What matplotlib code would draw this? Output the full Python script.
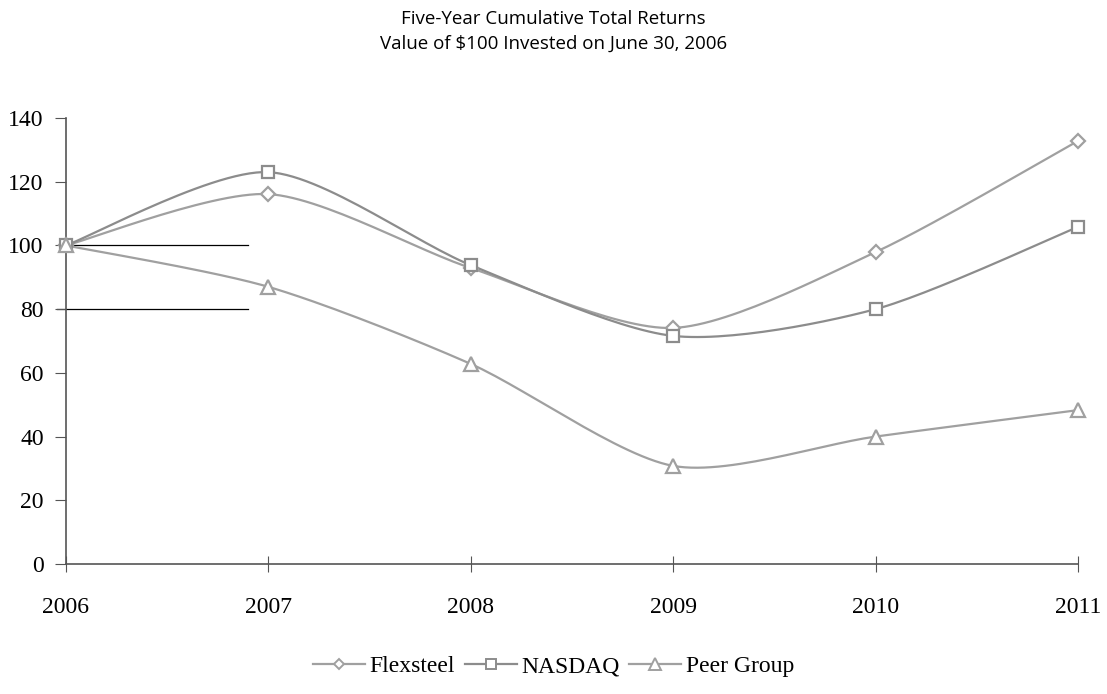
import numpy as np
import matplotlib.pyplot as plt

years = [2006, 2007, 2008, 2009, 2010, 2011]
flexsteel = [100, 116.1, 92.9, 74.1, 97.9, 132.8]
nasdaq = [100, 123.0, 93.8, 71.6, 80.0, 105.8]
peer = [100, 87.0, 62.8, 30.8, 40.0, 48.3]
series_names = ['Flexsteel', 'NASDAQ', 'Peer Group']

# smooth line like a spreadsheet "smoothed line" (cardinal bezier)
def smooth(x, y, n=30, k=7.5):
    x = np.asarray(x, float)
    y = np.asarray(y, float)
    px = np.concatenate([[x[0]], x, [x[-1]]])
    py = np.concatenate([[y[0]], y, [y[-1]]])
    xs, ys = [], []
    t = np.linspace(0, 1, n)
    for i in range(1, len(x)):
        p0 = np.array([px[i], py[i]])
        p3 = np.array([px[i + 1], py[i + 1]])
        p1 = p0 + (np.array([px[i + 1], py[i + 1]]) - np.array([px[i - 1], py[i - 1]])) / k
        p2 = p3 - (np.array([px[i + 2], py[i + 2]]) - np.array([px[i], py[i]])) / k
        b = ((1 - t) ** 3)[:, None] * p0 + (3 * (1 - t) ** 2 * t)[:, None] * p1 \
            + (3 * (1 - t) * t ** 2)[:, None] * p2 + (t ** 3)[:, None] * p3
        xs.extend(b[:, 0])
        ys.extend(b[:, 1])
    return xs, ys

fig = plt.figure(figsize=(11.07, 6.94), dpi=100)
ax = fig.add_axes([0.0596, 0.1873, 0.9142, 0.6427])

styles = [('D', '#a0a0a0', 7), ('s', '#8c8c8c', 9), ('^', '#a0a0a0', 10)]
for vals, name, (m, c, ms) in zip([flexsteel, nasdaq, peer], series_names, styles):
    sx, sy = smooth(years, vals)
    ax.plot(sx, sy, color=c, lw=1.6, zorder=2)
    ax.plot(years, vals, ls='none', marker=m, ms=ms, mfc='white', mec=c, mew=1.6,
            zorder=3, clip_on=False)
    ax.plot([], [], color=c, lw=1.6, marker=m, ms=ms * 0.8, mfc='white', mec=c,
            mew=1.4, label=name)

# stray gridline fragments in the original
ax.plot([2006, 2006.9], [100, 100], color='black', lw=0.9, zorder=1)
ax.plot([2005.955, 2006.9], [80, 80], color='black', lw=0.9, zorder=1, clip_on=False)

ax.set_xlim(2006, 2011)
ax.set_ylim(0, 140)
ax.set_xticks(years)
ax.set_yticks(range(0, 141, 20))
for s in ['top', 'right']:
    ax.spines[s].set_visible(False)
for s in ['left', 'bottom']:
    ax.spines[s].set_color('#555555')
    ax.spines[s].set_linewidth(1.2)
ax.tick_params(axis='y', direction='out', length=8, color='#555555', pad=8)
ax.tick_params(axis='x', direction='inout', length=12, color='#555555', pad=18)
for lab in ax.get_xticklabels() + ax.get_yticklabels():
    lab.set_fontfamily('Liberation Serif')
    lab.set_fontsize(17)

fig.text(0.5, 0.985, 'Five-Year Cumulative Total Returns\nValue of $100 Invested on June 30, 2006',
         ha='center', va='top', fontsize=13.5, family='Open Sans', linespacing=1.45)

fig.legend(loc='center', bbox_to_anchor=(0.5, 0.04), ncol=3, frameon=False,
           prop={'family': 'Liberation Serif', 'size': 17}, handlelength=2.2,
           handletextpad=0.2, columnspacing=0.4)

fig.savefig('out.png', dpi=100)
